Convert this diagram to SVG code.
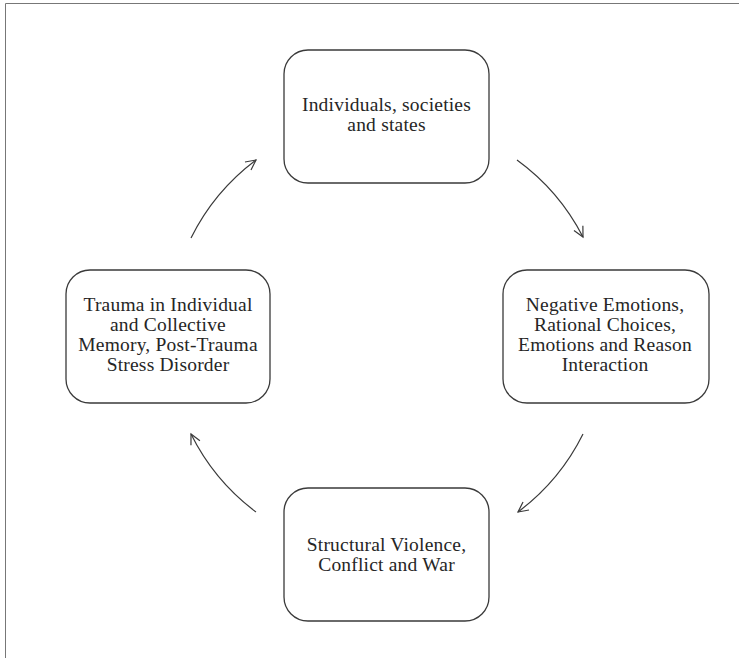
<svg xmlns="http://www.w3.org/2000/svg" width="739" height="658" viewBox="0 0 739 658">
<style>
.box{fill:#fff;stroke:#3a3a3a;stroke-width:1.3}
.lbl{font-family:"Liberation Serif","Times New Roman",serif;font-size:19.5px;letter-spacing:0.2px;fill:#262626;text-anchor:middle}
.arc{fill:none;stroke:#3a3a3a;stroke-width:1.2;marker-end:url(#ah)}
.frame{fill:none;stroke:#777;stroke-width:1}
</style>
<defs>
<marker id="ah" markerUnits="userSpaceOnUse" markerWidth="14" markerHeight="14" refX="11" refY="6" orient="auto" viewBox="0 0 14 12">
<path d="M1,1 L11,6 L1,11" fill="none" stroke="#3a3a3a" stroke-width="1.2"/>
</marker>
</defs>
<rect width="739" height="658" fill="#fff"/>
<path class="frame" d="M5.5,658 V3.5 H739"/>
<g id="connectors">
<path class="arc" d="M191,238 A219,219 0 0 1 256,160"/>
<path class="arc" d="M517,160 A219,219 0 0 1 583,237"/>
<path class="arc" d="M583,434 A219,219 0 0 1 518,512"/>
<path class="arc" d="M256,512 A219,219 0 0 1 191,434"/>
</g>
<g id="node-individuals">
<rect class="box" x="284" y="50" width="205" height="133" rx="24"/>
<text class="lbl" x="386.5" y="111">Individuals, societies</text>
<text class="lbl" x="386.5" y="131">and states</text>
</g>
<g id="node-emotions">
<rect class="box" x="503" y="270" width="206" height="133" rx="24"/>
<text class="lbl" x="605" y="310.5">Negative Emotions,</text>
<text class="lbl" x="605" y="330.5">Rational Choices,</text>
<text class="lbl" x="605" y="350.5">Emotions and Reason</text>
<text class="lbl" x="605" y="370.5">Interaction</text>
</g>
<g id="node-violence">
<rect class="box" x="284" y="488" width="205" height="133" rx="24"/>
<text class="lbl" x="386.5" y="550.5">Structural Violence,</text>
<text class="lbl" x="386.5" y="570.5">Conflict and War</text>
</g>
<g id="node-trauma">
<rect class="box" x="66" y="270" width="204" height="133" rx="24"/>
<text class="lbl" x="168" y="310.5">Trauma in Individual</text>
<text class="lbl" x="168" y="330.5">and Collective</text>
<text class="lbl" x="168" y="350.5">Memory, Post-Trauma</text>
<text class="lbl" x="168" y="370.5">Stress Disorder</text>
</g>
</svg>
